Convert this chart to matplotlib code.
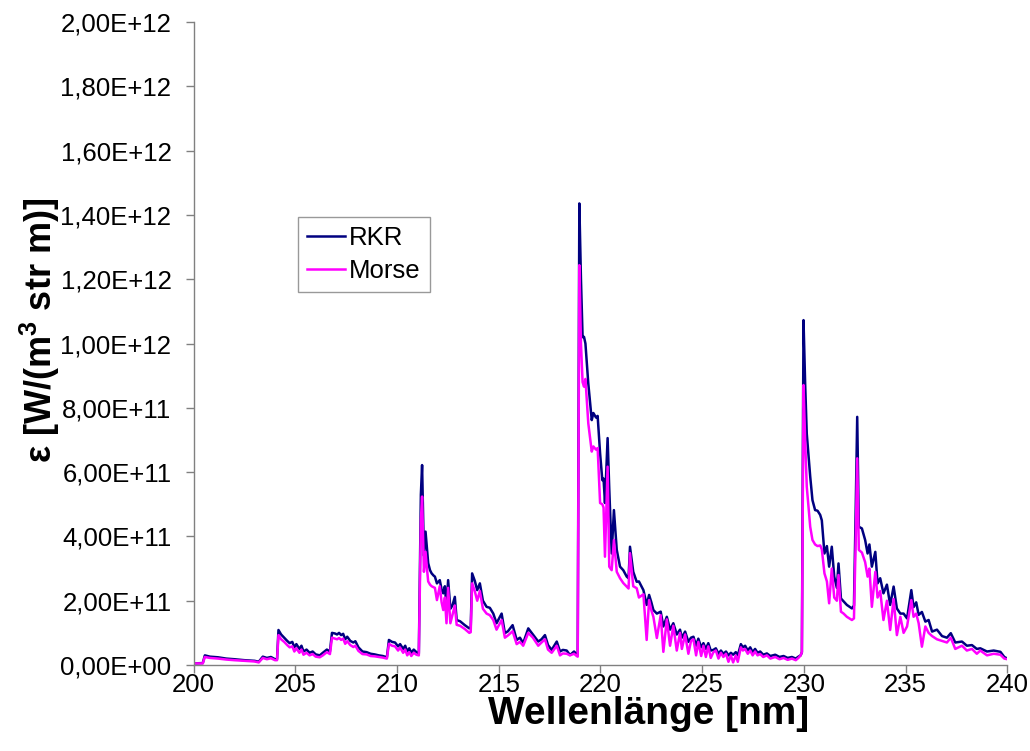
import matplotlib
matplotlib.use("Agg")
from matplotlib import pyplot as plt
from matplotlib.ticker import FuncFormatter, MultipleLocator
import numpy as np

# Wellenlaenge in nm
wl = [200.00, 200.45, 200.55, 200.80, 201.20, 201.60, 202.00, 202.50, 203.00, 203.20,
      203.40, 203.60, 203.80, 204.00, 204.10, 204.17, 204.30, 204.45, 204.60, 204.72,
      204.85, 204.95, 205.05, 205.20, 205.30, 205.40, 205.55, 205.70, 205.85, 206.00,
      206.20, 206.35, 206.55, 206.70, 206.80, 206.95, 207.05, 207.15, 207.25, 207.35,
      207.45, 207.55, 207.70, 207.85, 207.95, 208.10, 208.30, 208.50, 208.70, 208.90,
      209.10, 209.30, 209.50, 209.60, 209.75, 209.90, 210.05, 210.15, 210.30, 210.40,
      210.50, 210.60, 210.70, 210.82, 210.95, 211.07, 211.17, 211.23, 211.32, 211.40,
      211.47, 211.53, 211.62, 211.70, 211.80, 211.86, 211.96, 212.10, 212.19, 212.27,
      212.35, 212.43, 212.51, 212.62, 212.72, 212.84, 212.93, 213.10, 213.33, 213.55,
      213.62, 213.69, 213.82, 213.94, 214.07, 214.22, 214.40, 214.56, 214.73, 214.89,
      215.14, 215.30, 215.45, 215.68, 215.88, 216.04, 216.20, 216.45, 216.68, 216.94,
      217.10, 217.27, 217.42, 217.60, 217.85, 218.01, 218.15, 218.34, 218.50, 218.70,
      218.83, 218.88, 218.93, 218.96, 219.04, 219.12, 219.19, 219.26, 219.40, 219.57,
      219.65, 219.78, 219.86, 219.98, 220.09, 220.15, 220.22, 220.35, 220.43, 220.55,
      220.66, 220.80, 220.96, 221.12, 221.29, 221.38, 221.45, 221.61, 221.78, 221.89,
      222.11, 222.27, 222.39, 222.50, 222.60, 222.77, 222.96, 223.09, 223.26, 223.42,
      223.58, 223.75, 223.91, 224.00, 224.16, 224.32, 224.45, 224.57, 224.70, 224.81,
      224.95, 225.06, 225.18, 225.30, 225.42, 225.55, 225.67, 225.80, 225.92, 226.04,
      226.17, 226.29, 226.41, 226.52, 226.65, 226.75, 226.90, 227.00, 227.11, 227.24,
      227.36, 227.48, 227.60, 227.72, 227.85, 228.00, 228.18, 228.35, 228.59, 228.80,
      229.00, 229.20, 229.41, 229.60, 229.73, 229.84, 229.90, 229.98, 230.06, 230.14,
      230.31, 230.42, 230.55, 230.67, 230.80, 230.88, 231.01, 231.13, 231.24, 231.37,
      231.49, 231.62, 231.70, 231.82, 231.95, 232.11, 232.36, 232.46, 232.55, 232.62,
      232.70, 232.85, 233.01, 233.13, 233.22, 233.34, 233.51, 233.62, 233.75, 233.91,
      234.08, 234.24, 234.41, 234.57, 234.74, 234.90, 235.07, 235.28, 235.39, 235.52,
      235.64, 235.80, 235.97, 236.13, 236.30, 236.54, 236.79, 237.03, 237.22, 237.44,
      237.77, 238.01, 238.26, 238.50, 238.67, 239.00, 239.33, 239.66, 239.85, 240.00]

# Emission in 1E+11 W/(m^3 str m)
rkr = [0.05, 0.06, 0.30, 0.26, 0.24, 0.20, 0.18, 0.15, 0.13, 0.10,
       0.26, 0.22, 0.25, 0.18, 0.18, 1.09, 0.95, 0.85, 0.75, 0.68,
       0.72, 0.55, 0.65, 0.50, 0.60, 0.42, 0.48, 0.38, 0.42, 0.33,
       0.30, 0.38, 0.48, 0.42, 1.00, 0.98, 0.95, 1.00, 0.93, 0.97,
       0.80, 0.88, 0.75, 0.70, 0.74, 0.55, 0.42, 0.40, 0.35, 0.33,
       0.30, 0.28, 0.24, 0.78, 0.72, 0.70, 0.58, 0.65, 0.50, 0.60,
       0.42, 0.52, 0.38, 0.48, 0.40, 0.36, 5.30, 6.22, 3.40, 4.15,
       3.60, 3.17, 2.95, 2.85, 2.78, 2.75, 2.54, 2.64, 2.35, 2.23,
       2.45, 1.81, 2.64, 1.75, 1.85, 2.12, 1.40, 1.36, 1.24, 1.14,
       1.16, 2.85, 2.62, 2.33, 2.54, 2.00, 1.81, 1.78, 1.60, 1.30,
       1.60, 0.99, 1.05, 1.24, 0.78, 0.85, 0.68, 1.14, 0.95, 0.73,
       0.80, 0.93, 0.62, 0.47, 0.73, 0.42, 0.47, 0.45, 0.31, 0.42,
       0.33, 0.30, 9.00, 14.36, 12.00, 10.20, 10.21, 10.00, 8.76, 7.62,
       7.84, 7.70, 7.75, 6.59, 5.75, 5.80, 5.04, 7.06, 5.50, 3.47,
       4.82, 3.58, 3.06, 2.95, 2.75, 2.70, 3.68, 2.90, 2.59, 2.60,
       2.33, 1.87, 2.18, 1.95, 1.71, 1.60, 1.66, 1.20, 1.50, 1.10,
       1.30, 0.95, 1.10, 0.85, 1.04, 0.72, 0.85, 0.88, 0.60, 0.82,
       0.55, 0.68, 0.50, 0.68, 0.45, 0.47, 0.52, 0.35, 0.45, 0.35,
       0.42, 0.30, 0.38, 0.32, 0.40, 0.30, 0.65, 0.55, 0.60, 0.45,
       0.55, 0.40, 0.50, 0.38, 0.42, 0.32, 0.36, 0.28, 0.32, 0.25,
       0.28, 0.22, 0.25, 0.20, 0.26, 0.30, 0.40, 10.73, 8.77, 7.20,
       5.86, 5.13, 4.82, 4.80, 4.67, 4.50, 3.47, 3.70, 3.06, 3.68,
       2.75, 2.40, 3.16, 2.07, 1.98, 1.87, 1.76, 1.85, 5.00, 7.72,
       4.30, 4.25, 3.89, 3.47, 3.75, 3.06, 3.52, 2.54, 2.70, 2.23,
       2.50, 1.87, 2.44, 1.76, 1.60, 1.60, 1.45, 2.33, 1.80, 1.95,
       1.56, 1.65, 1.35, 1.40, 1.04, 1.10, 0.90, 0.85, 0.99, 0.70,
       0.73, 0.60, 0.62, 0.50, 0.52, 0.42, 0.45, 0.41, 0.25, 0.20]

morse = [0.05, 0.05, 0.25, 0.22, 0.20, 0.17, 0.15, 0.13, 0.11, 0.08,
         0.22, 0.18, 0.21, 0.15, 0.15, 0.93, 0.80, 0.72, 0.62, 0.55,
         0.58, 0.42, 0.52, 0.38, 0.48, 0.32, 0.38, 0.30, 0.34, 0.26,
         0.24, 0.30, 0.40, 0.34, 0.85, 0.82, 0.80, 0.84, 0.78, 0.82,
         0.66, 0.74, 0.62, 0.56, 0.60, 0.44, 0.34, 0.33, 0.28, 0.27,
         0.25, 0.23, 0.20, 0.66, 0.60, 0.58, 0.45, 0.54, 0.38, 0.48,
         0.30, 0.40, 0.28, 0.38, 0.32, 0.30, 4.50, 5.24, 2.90, 3.52,
         3.00, 2.60, 2.50, 2.45, 2.42, 2.40, 2.02, 2.45, 1.95, 1.71,
         2.10, 1.30, 2.40, 1.30, 1.55, 1.85, 1.25, 1.22, 1.12, 1.00,
         1.02, 2.54, 2.30, 2.00, 2.30, 1.75, 1.60, 1.55, 1.40, 1.10,
         1.40, 0.85, 0.92, 1.05, 0.65, 0.72, 0.60, 1.00, 0.85, 0.60,
         0.70, 0.80, 0.48, 0.38, 0.60, 0.30, 0.36, 0.35, 0.30, 0.35,
         0.28, 0.26, 8.00, 12.44, 10.00, 8.80, 8.66, 8.90, 7.52, 6.64,
         6.80, 6.70, 6.75, 5.04, 5.00, 4.90, 3.37, 6.17, 3.06, 2.95,
         3.89, 2.90, 2.70, 2.55, 2.44, 2.38, 3.48, 2.45, 2.39, 2.10,
         2.20, 0.78, 2.02, 1.70, 1.50, 0.84, 1.55, 0.41, 1.42, 0.60,
         1.22, 0.45, 1.00, 0.50, 0.95, 0.35, 0.75, 0.80, 0.30, 0.72,
         0.28, 0.60, 0.25, 0.58, 0.22, 0.40, 0.45, 0.20, 0.38, 0.25,
         0.35, 0.10, 0.30, 0.08, 0.30, 0.10, 0.55, 0.45, 0.50, 0.35,
         0.45, 0.30, 0.42, 0.30, 0.34, 0.25, 0.30, 0.20, 0.25, 0.18,
         0.22, 0.16, 0.20, 0.15, 0.22, 0.30, 0.40, 8.71, 7.00, 5.55,
         4.30, 3.89, 3.75, 3.70, 3.72, 3.60, 2.85, 2.60, 1.92, 3.00,
         2.10, 2.00, 2.80, 1.66, 1.60, 1.50, 1.40, 1.45, 4.00, 6.43,
         3.58, 3.50, 3.20, 2.75, 3.00, 1.81, 2.90, 2.10, 2.30, 1.40,
         2.00, 1.09, 2.05, 0.93, 1.50, 1.00, 1.20, 2.02, 1.50, 1.60,
         1.30, 0.57, 1.20, 1.00, 0.90, 0.80, 0.75, 0.70, 0.85, 0.50,
         0.60, 0.45, 0.50, 0.35, 0.45, 0.30, 0.35, 0.32, 0.20, 0.18]

plt.rcParams['font.family'] = ['Liberation Sans', 'DejaVu Sans']
plt.rcParams['mathtext.fontset'] = 'custom'
plt.rcParams['mathtext.bf'] = 'Liberation Sans:bold'
plt.rcParams['mathtext.rm'] = 'Liberation Sans'

fig = plt.figure(figsize=(10.30, 7.51), dpi=100)
ax = fig.add_axes([0.188, 0.1145, 0.790, 0.856])

ax.plot(wl, np.array(rkr) * 1e11, color='#000080', lw=1.8, label='RKR')
ax.plot(wl, np.array(morse) * 1e11, color='#ff00ff', lw=1.8, label='Morse')

ax.set_xlim(200, 240)
ax.set_ylim(0, 2e12)
ax.xaxis.set_major_locator(MultipleLocator(5))
ax.yaxis.set_major_locator(MultipleLocator(2e11))
ax.yaxis.set_major_formatter(FuncFormatter(lambda v, p: f"{v:.2E}".replace('.', ',')))

for s in ['top', 'right']:
    ax.spines[s].set_visible(False)
for s in ['left', 'bottom']:
    ax.spines[s].set_color('#808080')
    ax.spines[s].set_linewidth(1.0)
ax.tick_params(axis='both', direction='out', length=6, width=1, color='#808080',
               labelsize=18.5)
ax.tick_params(axis='y', pad=10)
ax.tick_params(axis='x', pad=0)

# Achsenbeschriftungen
fig.text(0.039, 0.560, r'ε [W/(m$^\mathbf{3}$ str m)]', rotation=90, fontsize=26,
         fontweight='bold', ha='center', va='center')
fig.text(0.630, 0.036, 'Wellenlänge [nm]', fontsize=28, fontweight='bold',
         ha='center', va='baseline')

leg = ax.legend(loc='upper left', bbox_to_anchor=(0.128, 0.697), borderaxespad=0,
                fontsize=18.5, frameon=True, fancybox=False, handlelength=1.5,
                borderpad=0.35, labelspacing=0.35, handletextpad=0.15)
leg.get_frame().set_edgecolor('#808080')
leg.get_frame().set_linewidth(1.0)

fig.savefig('out.png', dpi=100)
